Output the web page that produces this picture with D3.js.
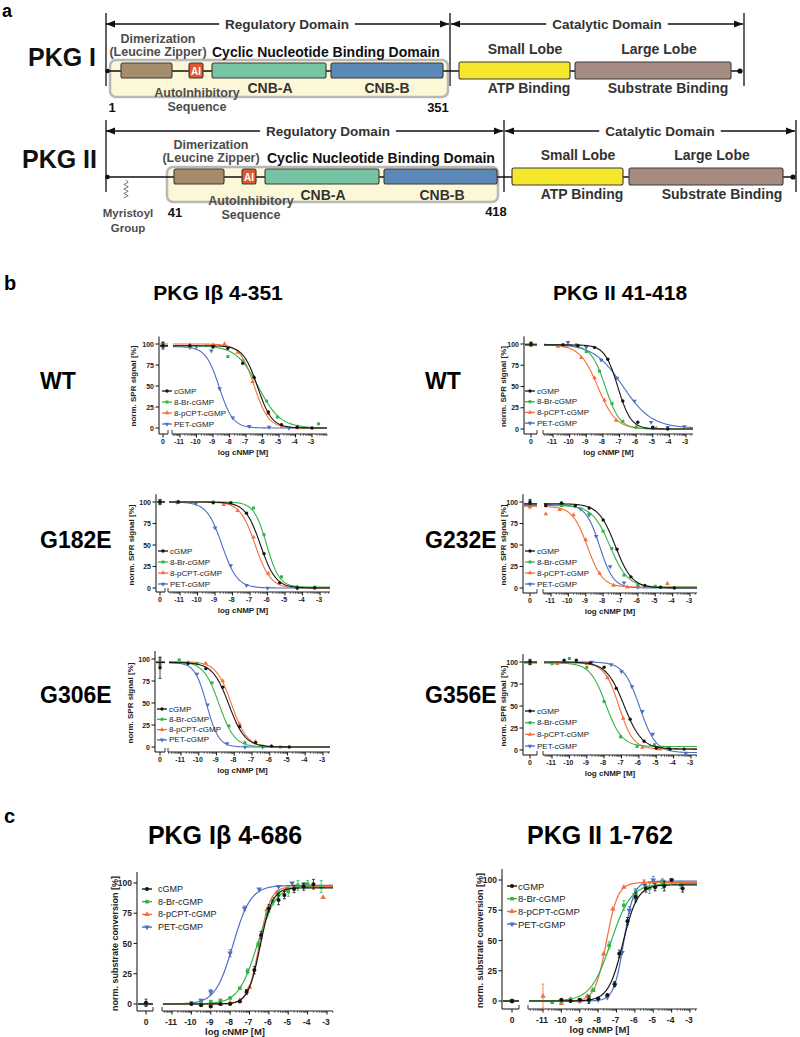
<!DOCTYPE html>
<html><head><meta charset="utf-8">
<script src="https://cdn.jsdelivr.net/npm/d3@7"></script>
<style>body{margin:0;background:#fff;} svg{display:block;font-family:"Liberation Sans",Arial,Helvetica,sans-serif;}</style>
</head><body><svg id="fig" width="800" height="1037"></svg>
<script>
// ---------------- DATA ----------------
const seriesNames = ["cGMP","8-Br-cGMP","8-pCPT-cGMP","PET-cGMP"];
const seriesColors = ["#151515","#36b24a","#f36f3d","#4e6ec4"];
const xTickValues = [-11,-10,-9,-8,-7,-6,-5,-4,-3];
const yTickValues = [0,25,50,75,100];
const titlesB = ["PKG Iβ 4-351","PKG II 41-418"];
const rowLabelsLeft = ["WT","G182E","G306E"];
const rowLabelsRight = ["WT","G232E","G356E"];
const titlesC = ["PKG Iβ 4-686","PKG II 1-762"];
const yLabelB = "norm. SPR signal [%]";
const yLabelC = "norm. substrate conversion [%]";
const xLabel = "log cNMP [M]";

// fitted curves: [top, bottom, logEC50, Hill] per series (cGMP, 8-Br, 8-pCPT, PET)
const fitIbWT   = [[98,0,-6.3,1.0],[98,0,-6.25,0.65],[100,0,-6.5,1.0],[97,0,-8.62,1.05]];
const fitIIWT   = [[99,0,-7.1,1.1],[99,0,-7.85,1.0],[99,0,-8.3,0.8],[100,1,-6.8,0.5]];
const fitIbG182 = [[100,0,-6.4,1.0],[100,1,-6.05,1.2],[100,0,-6.7,1.0],[100,0,-8.6,1.0]];
const fitIIG232 = [[98,0,-7.3,0.9],[96,1,-7.6,0.85],[95,1,-8.9,1.0],[97,0,-8.2,1.1]];
const fitIbG306 = [[96,0,-8.3,0.95],[97,0,-8.85,1.0],[97,0,-8.15,1.0],[96,0,-9.55,1.3]];
const fitIIG356 = [[100,1,-6.85,0.85],[99,4,-7.9,0.95],[99,1,-7.15,1.05],[100,-3,-5.95,0.95]];
const fitIbFull = [[96,0,-6.45,1.4],[98,0,-6.6,0.9],[97,0,-6.5,1.5],[98,0,-7.85,0.95]];
const fitIIFull = [[96,0,-6.65,1.1],[97,0,-7.31,0.8],[98,0,-7.55,1.4],[99,0,-6.6,1.6]];

// measured points: [log c, value, sd]
const ptsIbWT = [
  [[-10.4,98],[-9.0,97],[-8.1,95],[-7.2,77],[-6.5,60],[-5.65,19],[-4.85,4],[-3.9,1],[-3.0,0]],
  [[-10.4,97],[-9.0,96],[-8.1,85],[-7.2,80],[-6.55,61],[-5.75,32],[-5.1,13],[-3.9,2],[-2.6,5]],
  [[-10.4,99],[-9.0,99],[-8.3,100],[-7.5,90],[-6.6,55],[-5.65,17],[-4.8,2],[-3.9,0]],
  [[-10.4,96],[-10.0,97],[-9.1,92],[-8.6,47],[-7.8,12],[-6.8,2],[-5.6,1],[-4.4,0]]];
const ptsIIWT = [
  [[-10.4,99],[-9.5,98],[-8.5,96],[-7.7,82],[-6.8,33],[-5.9,8],[-5.0,2],[-4.1,0]],
  [[-10.4,99],[-9.6,99],[-9.0,91],[-8.2,68],[-7.45,30],[-6.8,9],[-6.0,2],[-5.0,1]],
  [[-10.7,97],[-10.2,97],[-9.3,84],[-8.5,60],[-7.9,34],[-7.2,10],[-6.0,2],[-4.8,1]],
  [[-10.1,102],[-9.0,96],[-8.1,81],[-7.15,60],[-6.1,33],[-5.1,8],[-4.1,2],[-3.1,3]]];
const ptsIbG182 = [
  [[-11.1,100],[-9.1,99],[-8.1,99],[-7.2,87],[-6.2,40],[-5.3,6],[-4.3,0],[-3.3,0]],
  [[-11.1,100],[-9.1,100],[-8.1,99],[-6.8,93],[-6.2,62],[-5.2,13],[-4.3,1],[-3.3,1]],
  [[-11.1,100],[-8.5,97],[-7.7,90],[-6.8,59],[-5.95,17],[-4.3,1]],
  [[-11.2,100],[-10.1,98],[-9.0,70],[-8.1,26],[-7.2,3],[-6.0,0],[-4.3,0]]];
const ptsIIG232 = [
  [[-11.3,96],[-10.4,99],[-9.6,96],[-8.8,93],[-8.0,79],[-7.2,45],[-6.4,13],[-5.6,3],[-4.7,1],[-3.9,0]],
  [[-11.3,97],[-10.4,96],[-9.6,95],[-8.8,86],[-8.0,66],[-7.5,46],[-6.8,15],[-6.0,4],[-5.0,2]],
  [[-11.3,86],[-10.5,91],[-9.7,85],[-9.0,56],[-8.2,17],[-7.4,3],[-6.6,1],[-4.3,5]],
  [[-11.3,97],[-10.4,97],[-9.3,92],[-8.8,85],[-8.4,60],[-7.6,25],[-6.8,6],[-6.0,1]]];
const ptsIbG306 = [
  [[-10.6,95],[-9.6,89],[-8.65,68],[-7.7,23],[-6.8,5],[-5.9,1],[-4.9,0]],
  [[-11.1,99],[-10.1,95],[-9.25,73],[-8.3,24],[-7.4,5],[-6.4,1],[-5.4,0]],
  [[-10.6,96],[-9.6,95],[-8.65,75],[-7.7,26],[-6.8,6],[-5.9,1]],
  [[-10.6,95],[-10.1,83],[-9.5,48],[-8.4,4],[-7.4,0],[-6.4,0]]];
const ptsIIG356 = [
  [[-10.3,102],[-9.6,102],[-8.8,99],[-8.0,94],[-7.3,70],[-6.5,35],[-5.7,10],[-5.0,2],[-4.2,1],[-3.4,1]],
  [[-11.0,98],[-10.0,104],[-9.0,94],[-8.0,55],[-7.05,15],[-6.1,4],[-5.1,6]],
  [[-10.7,98],[-9.0,98],[-7.8,82],[-6.9,36],[-5.8,3],[-4.8,1]],
  [[-8.7,100],[-7.6,97],[-7.0,89],[-6.4,72],[-5.8,44],[-5.2,18],[-4.3,2],[-3.3,-4]]];
const ptsIbFull = [
  [[-10,0],[-9.5,-1],[-9,-2],[-8.5,0],[-8,0],[-7.5,2],[-7.15,10,2],[-6.75,28,3],[-6.4,57,3],[-6.0,79,3],[-5.5,86,4],[-5.2,90,3],[-4.7,95,3],[-4.2,97,3],[-3.7,99,4]],
  [[-10,1],[-9.5,1],[-9,2],[-8.5,3],[-8,5],[-7.5,13],[-7.1,27,2],[-6.55,49,2],[-6.1,74,3],[-5.8,85,3],[-5.5,90,4],[-5.0,93,4],[-4.5,98,4],[-4,99,3],[-3.3,97,5]],
  [[-9.5,0],[-9,0],[-8.5,0],[-8,1],[-7.5,3],[-7,14],[-6.5,49],[-6.1,78],[-5.6,92],[-5.1,95],[-4.6,97],[-4,98],[-3.2,88]],
  [[-9.5,3],[-9,10,2],[-8,42,3],[-7.25,79,2],[-6.5,95],[-5.5,97],[-4.8,100],[-4.2,99]]];
const ptsIIFull = [
  [[-10,1],[-9.5,0],[-9,1],[-8.5,1,3],[-8,2],[-7.5,5],[-7.1,14,2],[-6.85,39,3],[-6.4,66,3],[-5.95,86,4],[-5.4,93,3],[-4.9,94,3],[-4.4,95,4],[-4,100],[-3.4,93,3]],
  [[-10.5,-1],[-10,0],[-9.5,1,2],[-9,1],[-8.5,3,2],[-8.25,9],[-7.4,46,3],[-6.6,79,4],[-5.95,88,5],[-5.2,93,4],[-4.5,97,4],[-3.5,96,3]],
  [[-11,4,10],[-10,-2],[-9,0],[-8.6,4],[-8.3,9],[-7.7,39],[-7.2,76],[-6.6,94],[-5.5,98],[-4.5,99]],
  [[-9,0],[-8.5,0],[-8,1],[-7.5,3],[-7.1,13],[-6.7,40],[-6.3,75,3],[-6,88,4],[-5.5,97,3],[-5,100,3],[-4.5,99],[-4,100]]];

// values at zero cNMP: [value, sd]
const zeroIbWT   = [[98,4],[99,3],[100,2],[99,3]];
const zeroIIWT   = [[100,2],[100,2],[99,2],[100,2]];
const zeroIbG182 = [[100,3],[100,2],[100,2],[100,2]];
const zeroIIG232 = [[100,3],[98,4],[95,3],[97,3]];
const zeroIbG306 = [[90,12],[97,5],[95,4],[96,4]];
const zeroIIG356 = [[100,3],[100,2],[99,2],[100,2]];
const zeroIbFull = [[1,3],[0,1],[0,1],[0,1]];
const zeroIIFull = [[0,1],[0,1],[0,1],[0,1]];

// ---------------- DRAWING ----------------
const svg = d3.select("#fig");

function txt(g, s, x, y, size, weight, fill, anchor, baseline) {
  return g.append("text").attr("x", x).attr("y", y).text(s)
    .attr("font-size", size).attr("font-weight", weight || "normal")
    .attr("fill", fill || "#000").attr("text-anchor", anchor || "middle")
    .attr("dominant-baseline", baseline || "central");
}

// ---- Panel a: domain diagrams ----
function arrowHead(g, x, y, dir) {
  g.append("path").attr("d", `M${x},${y}L${x - dir*9},${y-3.5}L${x - dir*9},${y+3.5}Z`).attr("fill", "#111");
}
function labelOnLine(g, s, cx, y) {
  const t = txt(g, s, cx, y, 13.5, "bold", "#333");
  const b = t.node().getBBox();
  g.insert("rect", () => t.node()).attr("x", b.x - 6).attr("y", b.y).attr("width", b.width + 12).attr("height", b.height).attr("fill", "#fff");
}
function drawRow(r) {
  const g = svg.append("g");
  txt(g, r.name, r.nameX, r.nameY, 25, "bold", "#111", "start");
  r.vlines.forEach(v => g.append("line").attr("x1", v[0]).attr("x2", v[0]).attr("y1", v[1]).attr("y2", v[2]).attr("stroke", "#222").attr("stroke-width", 1.4));
  [[r.reg, r.regText, "Regulatory Domain"], [r.cat, r.catText, "Catalytic Domain"]].forEach(([ab, c, s]) => {
    g.append("line").attr("x1", ab[0]).attr("x2", ab[1]).attr("y1", r.arrowY).attr("y2", r.arrowY).attr("stroke", "#111").attr("stroke-width", 1.3);
    arrowHead(g, ab[0], r.arrowY, -1); arrowHead(g, ab[1], r.arrowY, 1);
    labelOnLine(g, s, c, r.arrowY);
  });
  g.append("rect").attr("x", r.hl[0]).attr("y", r.hl[1]).attr("width", r.hl[2]-r.hl[0]).attr("height", r.hl[3]-r.hl[1])
    .attr("rx", 6).attr("fill", "#fcf7d6").attr("stroke", "#b8b8b8").attr("stroke-width", 2.5);
  g.append("line").attr("x1", r.backX[0]).attr("x2", r.backX[1]).attr("y1", r.backY).attr("y2", r.backY).attr("stroke", "#111").attr("stroke-width", 1.6);
  g.append("circle").attr("cx", r.backX[0] + 1.5).attr("cy", r.backY).attr("r", 2.3).attr("fill", "#111");
  g.append("circle").attr("cx", r.backX[1]).attr("cy", r.backY).attr("r", 2.6).attr("fill", "#111");
  if (r.zig) {
    const [zx, z1, z2] = r.zig; let d = `M${zx},${z1}`; const n = 8;
    for (let k = 1; k <= n; k++) d += `L${zx + (k % 2 ? 2.2 : -2.2)},${z1 + (z2 - z1) * k / n}`;
    g.append("path").attr("d", d).attr("fill", "none").attr("stroke", "#666").attr("stroke-width", 0.9);
  }
  const boxes = [[r.dim, r.boxY, "#a58c6c"], [r.ai, r.boxY, "#e4552c"], [r.cnbA, r.boxY, "#77c4a4"], [r.cnbB, r.boxY, "#5b88b7"],
                 [r.small, r.lobeY, "#f6e62c"], [r.large, r.lobeY, "#a68c80"]];
  boxes.forEach(([xx, yy, c]) => g.append("rect").attr("x", xx[0]).attr("y", yy[0]).attr("width", xx[1]-xx[0]).attr("height", yy[1]-yy[0])
    .attr("rx", 2).attr("fill", c).attr("stroke", "#3a3a3a").attr("stroke-width", 1.1));
  txt(g, "AI", (r.ai[0] + r.ai[1]) / 2, (r.boxY[0] + r.boxY[1]) / 2 + 0.5, 10, "bold", "#fff");
  r.labels.forEach(l => txt(g, l[0], l[1], l[2], l[3], "bold", l[4], l[5] || "middle"));
}
const G1 = "#4d4d4d", G2 = "#333", G3 = "#111";
drawRow({
  name: "PKG I", nameX: 28, nameY: 57,
  vlines: [[106, 13, 86], [450, 13, 86], [744, 13, 86]],
  arrowY: 24, reg: [106, 449], cat: [451, 743], regText: 287, catText: 607,
  backY: 71, backX: [106, 740], hl: [110, 60, 448, 97], boxY: [63, 78], lobeY: [62, 79],
  dim: [121, 172], ai: [189, 203], cnbA: [212, 326], cnbB: [331, 443], small: [459, 570], large: [575, 731],
  labels: [["Dimerization", 158, 39, 12.5, G1], ["(Leucine Zipper)", 158, 52, 12.5, G1],
    ["Cyclic Nucleotide Binding Domain", 212, 52, 14, G3, "start"], ["CNB-A", 270, 88, 14, G2], ["CNB-B", 387, 88, 14, G2],
    ["AutoInhibitory", 197, 93, 12.5, G1], ["Sequence", 197, 107, 12.5, G1], ["1", 112, 107, 13, G3], ["351", 438, 107, 13, G3],
    ["Small Lobe", 525, 49, 14, G2], ["Large Lobe", 659, 49, 14, G2], ["ATP Binding", 529, 88, 14, G2], ["Substrate Binding", 668, 88, 14, G2]]
});
drawRow({
  name: "PKG II", nameX: 22, nameY: 159,
  vlines: [[106, 120, 192], [504, 120, 192], [796, 120, 192]],
  arrowY: 131, reg: [106, 503], cat: [505, 795], regText: 328, catText: 660,
  backY: 177, backX: [106, 793], hl: [167, 167, 498, 202], boxY: [169, 184], lobeY: [168, 185],
  dim: [174, 224], ai: [242, 256], cnbA: [265, 379], cnbB: [384, 497], small: [512, 623], large: [629, 783],
  zig: [126, 180, 198],
  labels: [["Dimerization", 211, 145, 12.5, G1], ["(Leucine Zipper)", 211, 158, 12.5, G1],
    ["Cyclic Nucleotide Binding Domain", 267, 158, 14, G3, "start"], ["CNB-A", 323, 195, 14, G2], ["CNB-B", 442, 195, 14, G2],
    ["AutoInhibitory", 251, 201, 12.5, G1], ["Sequence", 251, 215, 12.5, G1], ["41", 175, 212, 13, G3], ["418", 496, 211, 13, G3],
    ["Myristoyl", 128, 213, 11.5, G1], ["Group", 128, 228, 11.5, G1],
    ["Small Lobe", 578, 155, 14, G2], ["Large Lobe", 712, 155, 14, G2], ["ATP Binding", 582, 194, 14, G2], ["Substrate Binding", 722, 194, 14, G2]]
});

// panel letters and titles
txt(svg, "a", 2, 17, 18, "bold", "#000", "start", "auto");
txt(svg, "b", 4, 290, 20, "bold", "#000", "start", "auto");
txt(svg, "c", 4, 823, 20, "bold", "#000", "start", "auto");
txt(svg, titlesB[0], 218, 292, 21, "bold", "#000");
txt(svg, titlesB[1], 620, 292, 21, "bold", "#000");
txt(svg, titlesC[0], 225, 835, 25, "bold", "#000");
txt(svg, titlesC[1], 600, 835, 25, "bold", "#000");
[381, 540, 695].forEach((y, i) => {
  txt(svg, rowLabelsLeft[i], 40, y, 23, "bold", "#000", "start");
  txt(svg, rowLabelsRight[i], 425, y, 23, "bold", "#000", "start");
});

// ---- dose-response plots ----
const symTypes = [d3.symbolCircle, d3.symbolSquare, d3.symbolTriangle, d3.symbolTriangle];
function marker(g, i, x, y, size) {
  g.append("path").attr("d", d3.symbol().type(symTypes[i]).size(size)())
    .attr("transform", `translate(${x},${y})${i === 3 ? " rotate(180)" : ""}`).attr("fill", seriesColors[i]);
}
function logistic(f, x, inc) {
  const [top, bot, ec, h] = f;
  return bot + (top - bot) / (1 + Math.pow(10, (inc ? (ec - x) : (x - ec)) * h));
}
function drawPlot(p, fits, pts, zeros, inc, ylab) {
  const g = svg.append("g");
  const xs = d3.scaleLinear().domain([-11, -3]).range([p.xa, p.xb]);
  const ys = d3.scaleLinear().domain([0, 100]).range([p.y0, p.y100]);
  const ax = "#222", aw = 1.1;
  const line = (x1, y1, x2, y2, w) => g.append("line").attr("x1", x1).attr("y1", y1).attr("x2", x2).attr("y2", y2).attr("stroke", ax).attr("stroke-width", w || aw);
  // y axis
  line(p.ox, ys(109), p.ox, p.axisY);
  yTickValues.forEach(v => {
    line(p.ox - 3.5, ys(v), p.ox, ys(v));
    txt(g, String(v), p.ox - 5, ys(v), p.tfs, "bold", "#222", "end");
  });
  txt(g, ylab, p.ylx, (ys(0) + ys(100)) / 2, p.yfs, "bold", "#222").attr("transform", `rotate(-90,${p.ylx},${(ys(0) + ys(100)) / 2})`);
  // x axis, segment for zero
  line(p.ox, p.axisY, p.s1b, p.axisY);
  line(p.x0, p.axisY, p.x0, p.axisY + 3.5);
  line(p.s1b, p.axisY, p.s1b, p.axisY - 4, 0.9);
  txt(g, "0", p.x0, p.axisY + p.tdy, p.tfs, "bold", "#222");
  // x axis, log segment
  line(p.s2a, p.axisY, p.s2b, p.axisY);
  line(p.s2a, p.axisY, p.s2a, p.axisY - 4, 0.9);
  xTickValues.forEach(v => {
    line(xs(v), p.axisY, xs(v), p.axisY + 3.5);
    txt(g, String(v), xs(v) - 1, p.axisY + p.tdy, p.tfs, "bold", "#222");
  });
  d3.range(-12, -2).forEach(d => d3.range(2, 10).forEach(k => {
    const xv = xs(d + Math.log10(k));
    if (xv > p.s2a && xv < p.s2b) line(xv, p.axisY, xv, p.axisY + 1.8, 0.7);
  }));
  txt(g, xLabel, (p.ox + p.s2b) / 2, p.axisY + p.xldy, p.xfs, "bold", "#222");
  // data
  const lo = xs.invert(p.s2a + 1), hi = xs.invert(p.s2b);
  [3, 2, 1, 0].forEach(i => {
    const c = seriesColors[i];
    const curve = d3.range(201).map(k => { const x = lo + (hi - lo) * k / 200; return [xs(x), ys(logistic(fits[i], x, inc))]; });
    g.append("path").attr("d", d3.line()(curve)).attr("fill", "none").attr("stroke", c).attr("stroke-width", p.cw);
    const plateau = inc ? fits[i][1] : fits[i][0];
    g.append("line").attr("x1", p.ox + 1).attr("x2", p.s1b).attr("y1", ys(plateau)).attr("y2", ys(plateau)).attr("stroke", c).attr("stroke-width", p.cw);
    pts[i].forEach(d => {
      if (d[2]) {
        const a = ys(d[1] - d[2]), b = ys(d[1] + d[2]);
        g.append("line").attr("x1", xs(d[0])).attr("x2", xs(d[0])).attr("y1", a).attr("y2", b).attr("stroke", c).attr("stroke-width", 0.8);
        [a, b].forEach(yy => g.append("line").attr("x1", xs(d[0]) - 1.5).attr("x2", xs(d[0]) + 1.5).attr("y1", yy).attr("y2", yy).attr("stroke", c).attr("stroke-width", 0.8));
      }
      marker(g, i, xs(d[0]), ys(d[1]), p.sym);
    });
    const z = zeros[i];
    g.append("line").attr("x1", p.x0).attr("x2", p.x0).attr("y1", ys(z[0] - z[1])).attr("y2", ys(z[0] + z[1])).attr("stroke", c).attr("stroke-width", 0.8);
    [z[0] - z[1], z[0] + z[1]].forEach(v => g.append("line").attr("x1", p.x0 - 1.5).attr("x2", p.x0 + 1.5).attr("y1", ys(v)).attr("y2", ys(v)).attr("stroke", c).attr("stroke-width", 0.8));
    marker(g, i, p.x0, ys(z[0]), p.sym);
  });
  // legend
  seriesNames.forEach((s, i) => {
    const y = p.ly + i * p.ldy;
    g.append("line").attr("x1", p.lx).attr("x2", p.lx + 10).attr("y1", y).attr("y2", y).attr("stroke", seriesColors[i]).attr("stroke-width", p.cw + 0.2);
    marker(g, i, p.lx + 5, y, p.sym);
    txt(g, s, p.lx + p.ltx, y, p.lfs, "normal", "#222", "start");
  });
}
const bStyle = { tfs: 7, tdy: 7.5, xfs: 8, xldy: 18, yfs: 8, cw: 1.1, sym: 9, lfs: 8, ltx: 12 };
const cStyle = { tfs: 8.5, tdy: 11, xfs: 9.5, xldy: 20, yfs: 9, cw: 1.2, sym: 13, lfs: 9, ltx: 16 };
drawPlot(Object.assign({}, bStyle, { ox: 159, x0: 163, s1b: 168, xa: 180, xb: 312, s2a: 172, s2b: 327, y100: 344, y0: 428, axisY: 434, ylx: 133, lx: 162, ly: 391, ldy: 11 }), fitIbWT, ptsIbWT, zeroIbWT, false, yLabelB);
drawPlot(Object.assign({}, bStyle, { ox: 524, x0: 531, s1b: 537, xa: 553, xb: 686, s2a: 543, s2b: 693, y100: 344, y0: 429, axisY: 434, ylx: 503, lx: 525, ly: 391, ldy: 10.7 }), fitIIWT, ptsIIWT, zeroIIWT, false, yLabelB);
drawPlot(Object.assign({}, bStyle, { ox: 156, x0: 160, s1b: 165, xa: 180, xb: 320, s2a: 168, s2b: 330, y100: 502, y0: 588, axisY: 592, ylx: 131, lx: 158, ly: 551, ldy: 11 }), fitIbG182, ptsIbG182, zeroIbG182, false, yLabelB);
drawPlot(Object.assign({}, bStyle, { ox: 523, x0: 530, s1b: 537, xa: 551, xb: 690, s2a: 543, s2b: 697, y100: 502, y0: 588, axisY: 593, ylx: 503, lx: 525, ly: 551, ldy: 11 }), fitIIG232, ptsIIG232, zeroIIG232, false, yLabelB);
drawPlot(Object.assign({}, bStyle, { ox: 155, x0: 160, s1b: 165, xa: 181, xb: 323, s2a: 168, s2b: 330, y100: 659, y0: 747, axisY: 752, ylx: 130, lx: 157, ly: 709, ldy: 10.3 }), fitIbG306, ptsIbG306, zeroIbG306, false, yLabelB);
drawPlot(Object.assign({}, bStyle, { ox: 523, x0: 530, s1b: 537, xa: 552, xb: 691, s2a: 543, s2b: 697, y100: 662, y0: 750, axisY: 755, ylx: 503, lx: 525, ly: 711, ldy: 11.7 }), fitIIG356, ptsIIG356, zeroIIG356, false, yLabelB);
drawPlot(Object.assign({}, cStyle, { ox: 137, x0: 146, s1b: 153, xa: 172, xb: 327, s2a: 162, s2b: 333, y100: 883, y0: 1004, axisY: 1011, ylx: 115, lx: 142, ly: 889, ldy: 12.7 }), fitIbFull, ptsIbFull, zeroIbFull, true, yLabelC);
drawPlot(Object.assign({}, cStyle, { ox: 502, x0: 512, s1b: 519, xa: 543, xb: 690, s2a: 528, s2b: 697, y100: 880, y0: 1001, axisY: 1009, ylx: 480, lx: 507, ly: 886, ldy: 12.7, lfs: 9.5, ltx: 11 }), fitIIFull, ptsIIFull, zeroIIFull, true, yLabelC);
</script></body></html>
